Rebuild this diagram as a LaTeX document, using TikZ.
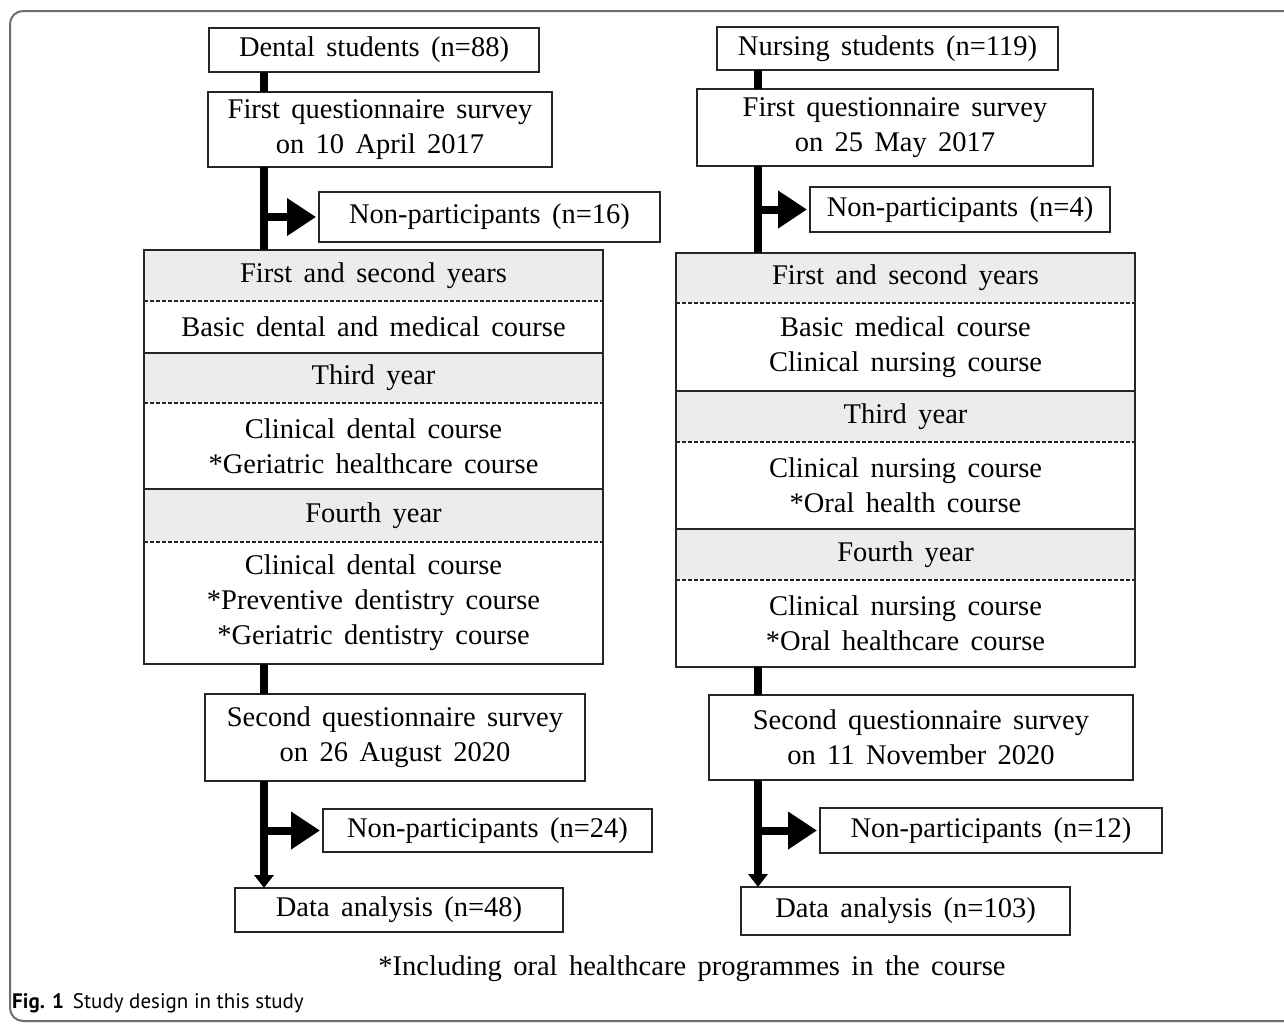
\documentclass[tikz,border=0pt]{standalone}
\usepackage{fontspec}
\setmainfont{Liberation Serif}[WordSpace=1.6]
\newfontfamily\capfont{PT Sans}
\usetikzlibrary{arrows.meta,
                positioning}
\definecolor{rowgray}{RGB}{236,236,236}
\definecolor{framegray}{RGB}{110,110,110}
\tikzset{box/.style={draw=black!85, line width=1.6pt, fill=white, align=center,
        inner sep=0pt, outer sep=0pt, font=\fontsize{28.5}{35}\selectfont},
    rowhead/.style={fill=rowgray, draw=none, inner sep=0pt, outer sep=0pt,
        minimum width=459pt, align=center, font=\fontsize{28.5}{35}\selectfont},
    rowbody/.style={rowhead, fill=white},
    bar/.style={line width=8pt, black},
    sidearrow/.style={bar, -{Triangle[length=29pt, width=36pt]}, shorten >=3pt},
    downarrow/.style={bar, -{Triangle[length=13pt, width=19pt]}}}

\begin{document}
\begin{tikzpicture}[x=1pt, y=-1pt]
    \useasboundingbox (0,0) rectangle (1284,1023);
    \draw[framegray, line width=2pt, rounded corners=13pt] (1290,11) -- (10,11) -- (10,1021) -- (1290,1021);

    \coordinate (spineL) at (264,0);
    \coordinate (spineR) at (758,0);

    % dental students
    \node[box, minimum width=330pt, minimum height=44pt] (dental) at (374,50) {Dental students (n=88)};
    \node[box, minimum width=344pt, minimum height=75pt] (q1L) at (380,129.5) {First questionnaire survey\\on 10 April 2017};
    \node[box, minimum width=341pt, minimum height=50pt] (np1L) at (489.5,217) {Non-participants (n=16)};

    \node[rowhead, minimum height=51pt, anchor=north] (rL1) at (373.5,250) {First and second years};
    \node[rowbody, minimum height=52pt, below=0pt of rL1] (rL2) {Basic dental and medical course};
    \node[rowhead, minimum height=50pt, below=0pt of rL2] (rL3) {Third year};
    \node[rowbody, minimum height=86pt, below=0pt of rL3] (rL4) {Clinical dental course\\*Geriatric healthcare course};
    \node[rowhead, minimum height=53pt, below=0pt of rL4] (rL5) {Fourth year};
    \node[rowbody, minimum height=122pt, below=0pt of rL5] (rL6) {Clinical dental course\\*Preventive dentistry course\\*Geriatric dentistry course};
    \draw[black!85, line width=1.6pt] (rL1.north west) rectangle (rL6.south east);
    \draw[black!85, line width=1.4pt, dash pattern=on 4pt off 2pt] (rL1.south west) -- (rL1.south east);
    \draw[black!85, line width=1.6pt] (rL2.south west) -- (rL2.south east);
    \draw[black!85, line width=1.4pt, dash pattern=on 4pt off 2pt] (rL3.south west) -- (rL3.south east);
    \draw[black!85, line width=1.6pt] (rL4.south west) -- (rL4.south east);
    \draw[black!85, line width=1.4pt, dash pattern=on 4pt off 2pt] (rL5.south west) -- (rL5.south east);

    \node[box, minimum width=380pt, minimum height=87pt] (q2L) at (395,737.5) {Second questionnaire survey\\on 26 August 2020};
    \node[box, minimum width=329pt, minimum height=43pt] (np2L) at (487.5,830.5) {Non-participants (n=24)};
    \node[box, minimum width=328pt, minimum height=44pt] (dataL) at (399,910) {Data analysis (n=48)};

    \draw[bar] (dental.south -| spineL) -- (q1L.north -| spineL);
    \draw[bar] (q1L.south -| spineL) -- (rL1.north -| spineL);
    \draw[sidearrow] (spineL |- np1L.west) -- (np1L.west);
    \draw[bar] (rL6.south -| spineL) -- (q2L.north -| spineL);
    \draw[downarrow] (q2L.south -| spineL) -- (dataL.north -| spineL);
    \draw[sidearrow] (spineL |- np2L.west) -- (np2L.west);

    % nursing students
    \node[box, minimum width=341pt, minimum height=43pt] (nursing) at (887.5,48.5) {Nursing students (n=119)};
    \node[box, minimum width=396pt, minimum height=77pt] (q1R) at (895,127.5) {First questionnaire survey\\on 25 May 2017};
    \node[box, minimum width=300pt, minimum height=45pt] (np1R) at (960,209.5) {Non-participants (n=4)};

    \node[rowhead, minimum height=50pt, anchor=north] (rR1) at (905.5,253) {First and second years};
    \node[rowbody, minimum height=88pt, below=0pt of rR1] (rR2) {Basic medical course\\Clinical nursing course};
    \node[rowhead, minimum height=51pt, below=0pt of rR2] (rR3) {Third year};
    \node[rowbody, minimum height=87pt, below=0pt of rR3] (rR4) {Clinical nursing course\\*Oral health course};
    \node[rowhead, minimum height=51pt, below=0pt of rR4] (rR5) {Fourth year};
    \node[rowbody, minimum height=87pt, below=0pt of rR5] (rR6) {Clinical nursing course\\*Oral healthcare course};
    \draw[black!85, line width=1.6pt] (rR1.north west) rectangle (rR6.south east);
    \draw[black!85, line width=1.4pt, dash pattern=on 4pt off 2pt] (rR1.south west) -- (rR1.south east);
    \draw[black!85, line width=1.6pt] (rR2.south west) -- (rR2.south east);
    \draw[black!85, line width=1.4pt, dash pattern=on 4pt off 2pt] (rR3.south west) -- (rR3.south east);
    \draw[black!85, line width=1.6pt] (rR4.south west) -- (rR4.south east);
    \draw[black!85, line width=1.4pt, dash pattern=on 4pt off 2pt] (rR5.south west) -- (rR5.south east);

    \node[box, minimum width=424pt, minimum height=85pt] (q2R) at (921,737.5) {Second questionnaire survey\\on 11 November 2020};
    \node[box, minimum width=342pt, minimum height=45pt] (np2R) at (991,830.5) {Non-participants (n=12)};
    \node[box, minimum width=329pt, minimum height=48pt] (dataR) at (905.5,911) {Data analysis (n=103)};

    \draw[bar] (nursing.south -| spineR) -- (q1R.north -| spineR);
    \draw[bar] (q1R.south -| spineR) -- (rR1.north -| spineR);
    \draw[sidearrow] (spineR |- np1R.west) -- (np1R.west);
    \draw[bar] (rR6.south -| spineR) -- (q2R.north -| spineR);
    \draw[downarrow] (q2R.south -| spineR) -- (dataR.north -| spineR);
    \draw[sidearrow] (spineR |- np2R.west) -- (np2R.west);

    \node[font=\fontsize{28.5}{35}\selectfont] (note) at (692,969) {*Including oral healthcare programmes in the course};
    \node[anchor=west, inner sep=0pt, font=\capfont\fontsize{21}{25}\selectfont] (caption) at (12,1003) {\textbf{Fig. 1}\hspace{9pt}Study design in this study};
\end{tikzpicture}
\end{document}
